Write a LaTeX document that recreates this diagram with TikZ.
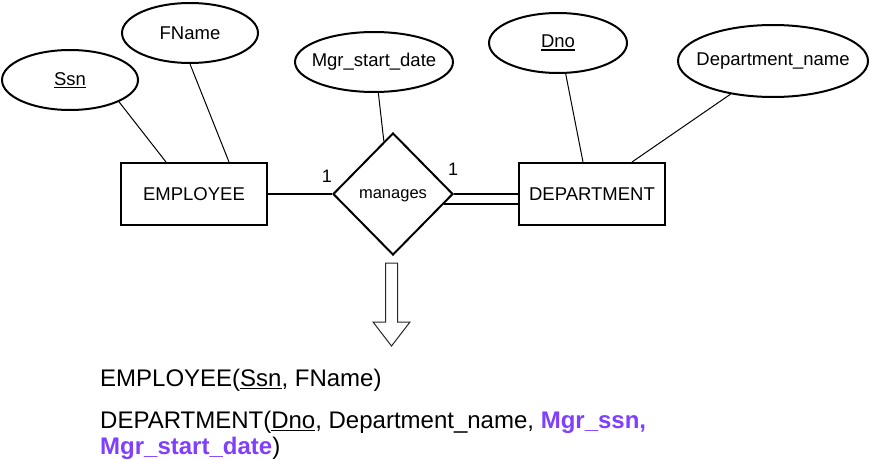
\documentclass[tikz,border=0pt]{standalone}
\usepackage{fontspec}
\setmainfont{Liberation Sans}
\usetikzlibrary{shapes.geometric,calc}
\definecolor{mgrpurple}{RGB}{127,63,255}
\newcommand\ulin[1]{\setbox0\hbox{#1}\rlap{\rule[-2.8pt]{\wd0}{1.3pt}}\box0}
\newcommand\attrtext[1]{\makebox[0pt][c]{#1}}
\begin{document}
\begin{tikzpicture}[x=1pt,y=-1pt,
  attr/.style={ellipse,draw,line width=2pt,inner sep=0pt,font=\fontsize{18.5}{22}\selectfont},
  ent/.style={rectangle,draw,line width=2pt,minimum width=146pt,minimum height=62pt,inner sep=0pt,font=\fontsize{18.5}{22}\selectfont},
  rel/.style={diamond,draw,line width=2pt,minimum width=120pt,minimum height=122pt,inner sep=0pt,text depth=0pt,font=\fontsize{16.5}{20}\selectfont},
  link/.style={line width=1pt},
  strong/.style={line width=2pt},
  card/.style={inner sep=0pt,font=\fontsize{18}{20}\selectfont},
  schema/.style={anchor=base west,inner sep=0pt,font=\fontsize{24}{28}\selectfont}]
\useasboundingbox (0,0) rectangle (870,460);
% attributes
\node[attr,minimum width=136pt,minimum height=60pt] (ssn) at (70,80) {\attrtext{\ulin{Ssn}}};
\node[attr,minimum width=136pt,minimum height=60pt] (fname) at (190,33) {\attrtext{FName}};
\node[attr,minimum width=158pt,minimum height=60pt] (mgr) at (374,62) {\attrtext{Mgr\_start\_date}};
\node[attr,minimum width=138pt,minimum height=60pt] (dno) at (558,43) {\attrtext{\ulin{Dno}}};
\node[attr,minimum width=190pt,minimum height=72pt] (dname) at (773,61) {\attrtext{Department\_name}};
% entities and relationship
\node[ent] (emp) at (194,194) {EMPLOYEE};
\node[ent] (dept) at (592,194) {DEPARTMENT};
\node[rel] (rel) at (393,194) {manages};
% cardinalities
\node[card] (c1) at (327,176) {1};
\node[card] (c2) at (453,169) {1};
% attribute links
\draw[link] (ssn.-24) -- ([xshift=46pt]emp.north west);
\draw[link] (fname.south) -- ([xshift=109pt]emp.north west);
\draw[link] (mgr.-82) -- ($(rel.north)!0.15!(rel.west)$);
\draw[link] (dno.-76) -- ([xshift=65pt]dept.north west);
\draw[link] (dname.-142) -- ([xshift=114pt]dept.north west);
% relationship links
\draw[strong] (emp.east) -- (rel.west);
\draw[strong] (rel.east) -- (rel.east -| dept.west);
\coordinate (dl) at ($(rel.east)!0.16!(rel.south)$);
\draw[strong] (dl) -- (dl -| dept.west);
% mapping arrow
\draw[line width=1pt,black!85] (385.5,263) -- (397.5,263) -- (397.5,322) -- (410,322) -- (391.5,346) -- (373,322) -- (385.5,322) -- cycle;
% schema
\node[schema] (s1) at (100,386) {EMPLOYEE(\ulin{Ssn}, FName)};
\node[schema] (s2) at (100,428) {DEPARTMENT(\ulin{Dno}, Department\_name, \textcolor{mgrpurple}{\bfseries Mgr\_ssn,}};
\node[schema] (s3) at (100,454) {\textcolor{mgrpurple}{\bfseries Mgr\_start\_date})};
\end{tikzpicture}
\end{document}
